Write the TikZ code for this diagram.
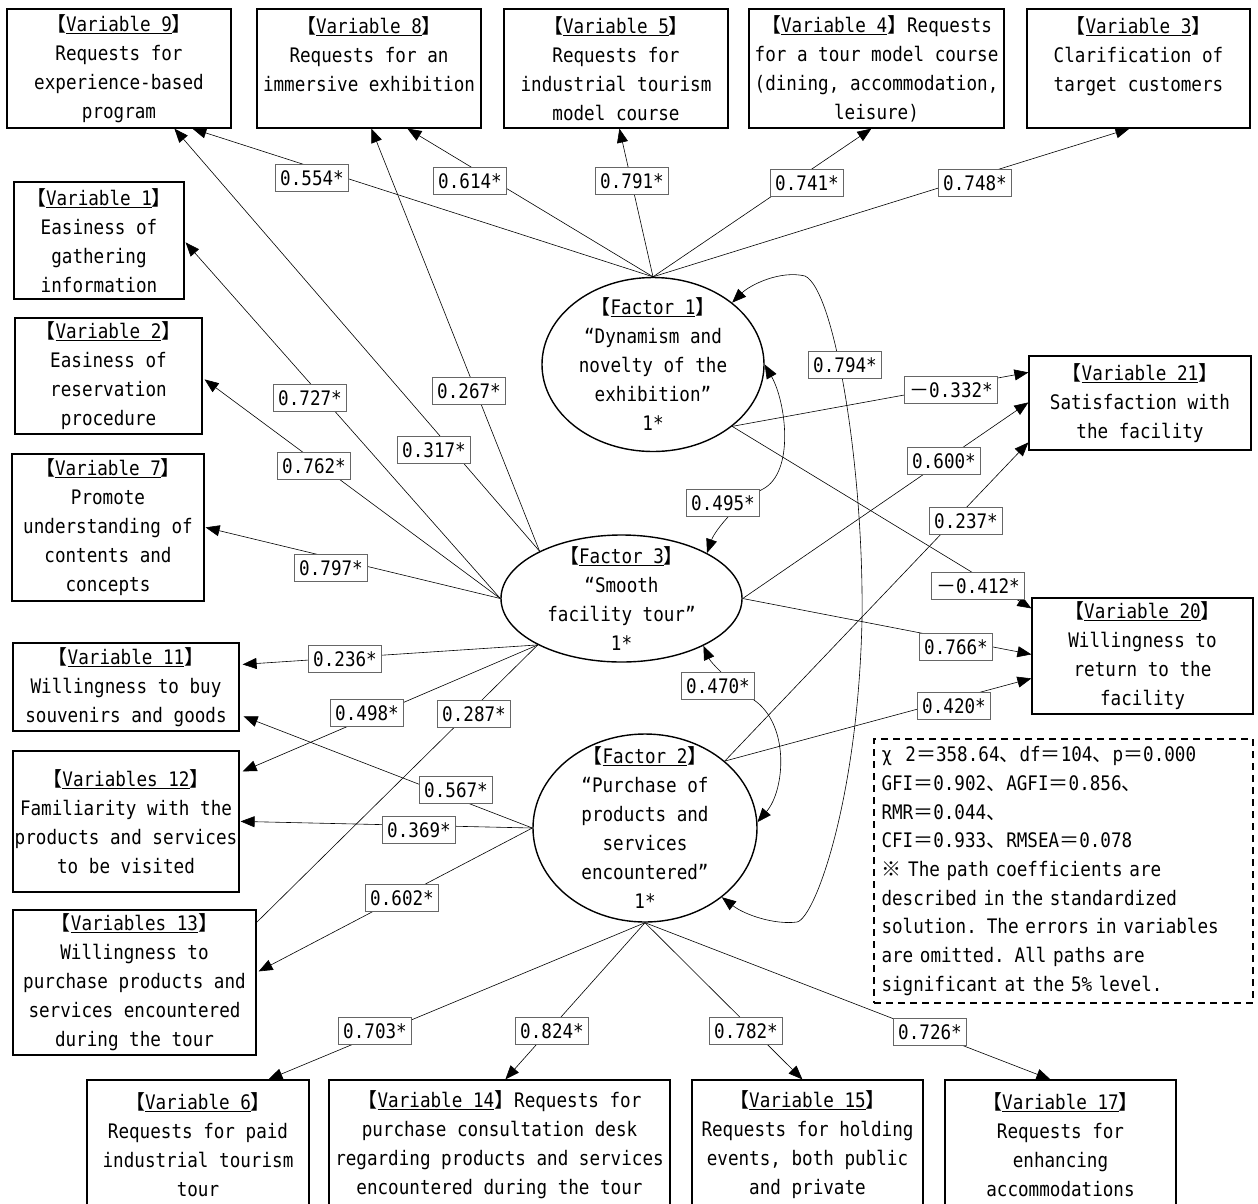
\documentclass[tikz,border=0pt]{standalone}
\usepackage{fontspec}
\setmainfont[FakeStretch=0.88]{DejaVu Sans Mono}
\newfontfamily\cjk{Noto Sans CJK JP}
\usetikzlibrary{arrows.meta,shapes.geometric,calc}
\newcommand\fs{\fontsize{20}{29}\selectfont}
\newcommand\zlb{{\cjk 【}}
\newcommand\zrb{{\cjk 】}}
\newcommand\zeq{{\cjk ＝}}
\newcommand\zcm{{\cjk 、}}
\newcommand\zmin{{\cjk －}}
\tikzset{
  box/.style={draw, line width=1.2pt, inner sep=0pt, align=center, font=\fs},
  lab/.style={draw=black!60, line width=0.7pt, fill=white, inner xsep=5pt, inner ysep=0pt, minimum height=27pt, font=\fs},
  conn/.style={line width=0.6pt, -{Triangle[length=14pt,width=11pt]}},
  plain/.style={line width=0.6pt},
  dconn/.style={line width=0.6pt, {Triangle[length=14pt,width=11pt]}-{Triangle[length=14pt,width=11pt]}},
  fac/.style={draw, ellipse, line width=1.4pt, inner sep=0pt, fill=white},
  ftext/.style={align=center, font=\fs, inner sep=0pt}
}
\begin{document}
\begin{tikzpicture}[x=1pt,y=-1pt]
\useasboundingbox (0,0) rectangle (1258,1203);
\fill[white] (0,0) rectangle (1258,1203);

% observed variables
\node[box, minimum width=224pt, minimum height=119pt] (V9) at (119,68.5) {\zlb\underline{Variable 9}\zrb\\Requests for\\experience-based\\program};
\node[box, minimum width=224pt, minimum height=119pt] (V8) at (369,68.5) {\zlb\underline{Variable 8}\zrb\\Requests for an\\immersive exhibition\\\mbox{}};
\node[box, minimum width=224pt, minimum height=119pt] (V5) at (616,68.5) {\zlb\underline{Variable 5}\zrb\\Requests for\\industrial tourism\\model course};
\node[box, minimum width=255pt, minimum height=119pt] (V4) at (876.5,68.5) {\zlb\underline{Variable 4}\zrb Requests\\for a tour model course\\(dining, accommodation,\\leisure)};
\node[box, minimum width=223pt, minimum height=119pt] (V3) at (1138.5,68.5) {\zlb\underline{Variable 3}\zrb\\Clarification of\\target customers\\\mbox{}};

\node[box, minimum width=170pt, minimum height=117pt] (V1) at (99,240.5) {\zlb\underline{Variable 1}\zrb\\Easiness of\\gathering\\information};
\node[box, minimum width=187pt, minimum height=116pt] (V2) at (108.5,376) {\zlb\underline{Variable 2}\zrb\\Easiness of\\reservation\\procedure};
\node[box, minimum width=192pt, minimum height=147pt] (V7) at (108,527.5) {\zlb\underline{Variable 7}\zrb\\Promote\\understanding of\\contents and\\concepts};
\node[box, minimum width=226pt, minimum height=88pt] (V11) at (126,687) {\zlb\underline{Variable 11}\zrb\\Willingness to buy\\souvenirs and goods};
\node[box, minimum width=226pt, minimum height=141pt] (V12) at (126,821.5) {\zlb\underline{Variables 12}\zrb\\Familiarity with the\\products and services\\to be visited};
\node[box, minimum width=243pt, minimum height=145pt] (V13) at (134.5,982.5) {\zlb\underline{Variables 13}\zrb\\Willingness to\\purchase products and\\services encountered\\during the tour};

\node[box, minimum width=222pt, minimum height=94pt] (V21) at (1140,403) {\zlb\underline{Variable 21}\zrb\\Satisfaction with\\the facility};
\node[box, minimum width=221pt, minimum height=116pt] (V20) at (1142.5,656) {\zlb\underline{Variable 20}\zrb\\Willingness to\\return to the\\facility};

\node[box, minimum width=222pt, minimum height=130pt] (V6) at (198,1145) {\zlb\underline{Variable 6}\zrb\\Requests for paid\\industrial tourism\\tour};
\node[box, minimum width=341pt, minimum height=130pt] (V14) at (499.5,1145) {\zlb\underline{Variable 14}\zrb Requests for\\purchase consultation desk\\regarding products and services\\encountered during the tour};
\node[box, minimum width=231pt, minimum height=130pt] (V15) at (807.5,1145) {\zlb\underline{Variable 15}\zrb\\Requests for holding\\events, both public\\and private};
\node[box, minimum width=231pt, minimum height=130pt] (V17) at (1060.5,1145) {\zlb\underline{Variable 17}\zrb\\Requests for\\enhancing\\accommodations};

% statistics box
\node[draw, line width=1.3pt, dash pattern=on 7pt off 5pt, minimum width=379pt, minimum height=264pt, inner sep=0pt, text width=364pt, align=left, font=\fontsize{20}{28.7}\selectfont] (ST) at (1063.5,871)
{χ~~2\zeq358.64\zcm df\zeq104\zcm p\zeq0.000\\
GFI\zeq0.902\zcm AGFI\zeq0.856\zcm\\
RMR\zeq0.044\zcm\\
CFI\zeq0.933\zcm RMSEA\zeq0.078\\
{\cjk ※} The path coefficients are\\
described in the standardized\\
solution. The errors in variables\\
are omitted. All paths are\\
significant at the 5\% level.};

% factors
\node[fac, minimum width=222pt, minimum height=174pt] (F1) at (653,364.5) {};
\node[fac, minimum width=241pt, minimum height=127pt] (F3) at (621.5,598.5) {};
\node[fac, minimum width=224pt, minimum height=188pt] (F2) at (645,828) {};
\node[ftext] (F1t) at (F1) {\zlb\underline{Factor 1}\zrb\\“Dynamism and\\novelty of the\\exhibition”\\1*};
\node[ftext] (F3t) at (F3) {\zlb\underline{Factor 3}\zrb\\“Smooth\\facility tour”\\1*};
\node[ftext] (F2t) at (F2) {\zlb\underline{Factor 2}\zrb\\“Purchase of\\products and\\services\\encountered”\\1*};

% connectors from Factor 1
\draw[conn] (F1.north) -- ($(V9.south west)+(186,0)$);
\draw[conn] (F1.north) -- ($(V8.south west)+(151,0)$);
\draw[conn] (F1.north) -- ($(V5.south west)+(116,0)$);
\draw[conn] (F1.north) -- ($(V4.south west)+(123,0)$);
\draw[conn] (F1.north) -- ($(V3.south west)+(103,0)$);
\draw[conn] (F1.-38) -- ($(V21.north west)+(0,17)$);
\draw[conn] (F1.-38) -- ($(V20.north west)+(0,11)$);

% connectors from Factor 3
\draw[conn] (F3.west) -- ($(V1.north east)+(1,61)$);
\draw[conn] (F3.west) -- ($(V2.north east)+(2,62)$);
\draw[conn] (F3.west) -- ($(V7.north east)+(1,74)$);
\draw[conn] (F3.150) -- ($(V9.south west)+(168,0)$);
\draw[conn] (F3.150) -- ($(V8.south west)+(115,0)$);
\draw[conn] (F3.209) -- ($(V11.north east)+(3,22)$);
\draw[conn] (F3.209) -- ($(V12.north east)+(3,21)$);
\draw[plain] (F3.209) -- ($(V13.north east)+(0,13)$);
\draw[conn] (F3.east) -- ($(V21.north west)+(0,47)$);
\draw[conn] (F3.east) -- ($(V20.north west)+(0,57)$);

% connectors from Factor 2
\draw[conn] (F2.40) -- ($(V21.north west)+(0,87)$);
\draw[conn] (F2.40) -- ($(V20.north west)+(0,81)$);
\draw[conn] (F2.west) -- ($(V11.north east)+(4,74)$);
\draw[conn] (F2.west) -- ($(V12.north east)+(1,71)$);
\draw[conn] (F2.west) -- ($(V13.north east)+(2,62)$);
\draw[conn] (F2.south) -- ($(V6.north west)+(182,0)$);
\draw[conn] (F2.south) -- ($(V14.north west)+(177,0)$);
\draw[conn] (F2.south) -- ($(V15.north west)+(111,0)$);
\draw[conn] (F2.south) -- ($(V17.north west)+(106,0)$);

% covariances
\draw[dconn] (F2.-42) .. controls (745,915) and (775,925) .. (797,922)
  .. controls (815,918) and (858,800) .. (862,620)
  .. controls (864,470) and (835,290) .. (805,276)
  .. controls (780,270) and (750,285) .. (F1.38);
\draw[dconn] (F3.28) .. controls (715,530) and (740,500) .. (763,489)
  .. controls (795,472) and (786,402) .. (F1.east);
\draw[dconn] (F3.-30) .. controls (712,665) and (740,690) .. (754,700)
  .. controls (790,725) and (785,790) .. (F2.3);

% coefficient labels
\node[lab] (c554) at (312,178) {0.554*};
\node[lab] (c614) at (470,181) {0.614*};
\node[lab] (c791) at (632,181) {0.791*};
\node[lab] (c741) at (807,183) {0.741*};
\node[lab] (c748) at (975,183) {0.748*};
\node[lab] (c727) at (310,398) {0.727*};
\node[lab] (c762) at (314,466) {0.762*};
\node[lab] (c317) at (434,450) {0.317*};
\node[lab] (c267) at (469,391) {0.267*};
\node[lab] (c797) at (331,568) {0.797*};
\node[lab] (c794) at (845,365) {0.794*};
\node[lab] (c332) at (951,390) {\zmin0.332*};
\node[lab] (c600) at (944,461) {0.600*};
\node[lab] (c495) at (723,503) {0.495*};
\node[lab] (c237) at (966,521) {0.237*};
\node[lab] (c412) at (978,586) {\zmin0.412*};
\node[lab] (c236) at (345,659) {0.236*};
\node[lab] (c766) at (956,647) {0.766*};
\node[lab] (c470) at (718,686) {0.470*};
\node[lab] (c498) at (367,713) {0.498*};
\node[lab] (c287) at (474,714) {0.287*};
\node[lab] (c420) at (954,706) {0.420*};
\node[lab] (c567) at (456,790) {0.567*};
\node[lab] (c369) at (419,830) {0.369*};
\node[lab] (c602) at (402,898) {0.602*};
\node[lab] (c703) at (375,1031) {0.703*};
\node[lab] (c824) at (552,1031) {0.824*};
\node[lab] (c782) at (746,1031) {0.782*};
\node[lab] (c726) at (930,1032) {0.726*};
\end{tikzpicture}
\end{document}
